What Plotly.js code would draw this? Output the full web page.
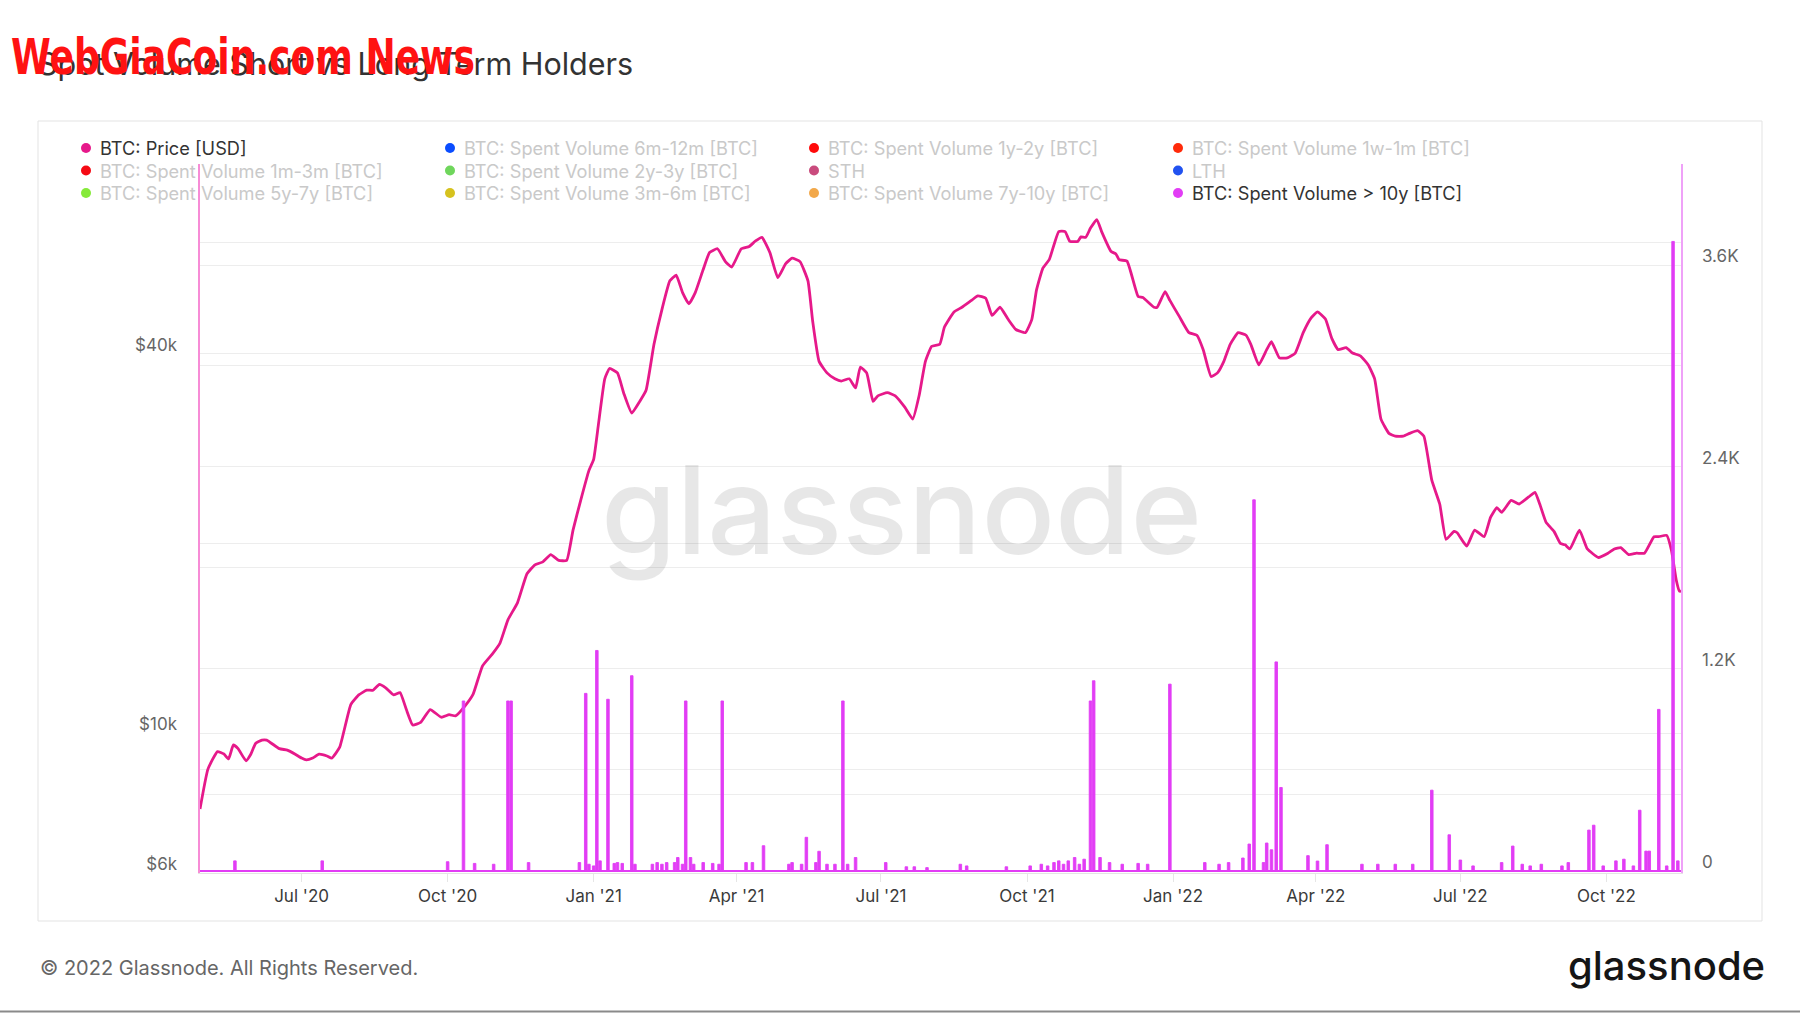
<!DOCTYPE html>
<html>
<head>
<meta charset="utf-8">
<script src="https://cdn.plot.ly/plotly-3.0.1.min.js"></script>
<style>
  html, body { margin: 0; padding: 0; background: #ffffff; }
  #chart { width: 1800px; height: 1013px; }
</style>
</head>
<body>
<div id="chart"></div>
<script>
// ---------------- DATA ----------------
const priceDates = [
  '2020-04-28','2020-05-03','2020-05-09','2020-05-13','2020-05-16','2020-05-19','2020-05-22','2020-05-27','2020-05-30',
  '2020-06-02','2020-06-06','2020-06-09','2020-06-17','2020-06-22','2020-06-27','2020-07-01','2020-07-04','2020-07-08',
  '2020-07-12','2020-07-17','2020-07-20','2020-07-25','2020-08-01','2020-08-06','2020-08-11','2020-08-15','2020-08-19',
  '2020-08-23','2020-08-28','2020-09-01','2020-09-05','2020-09-09','2020-09-14','2020-09-20','2020-09-27','2020-10-02',
  '2020-10-06','2020-10-12','2020-10-17','2020-10-23','2020-10-29','2020-11-03','2020-11-08','2020-11-14','2020-11-20',
  '2020-11-25','2020-11-30','2020-12-05','2020-12-10','2020-12-15','2020-12-19','2020-12-24','2020-12-29','2021-01-01',
  '2021-01-04','2021-01-08','2021-01-11','2021-01-16','2021-01-20','2021-01-25','2021-01-30','2021-02-03','2021-02-08',
  '2021-02-13','2021-02-18','2021-02-22','2021-02-26','2021-03-02','2021-03-06','2021-03-11','2021-03-15','2021-03-20',
  '2021-03-25','2021-03-29','2021-04-04','2021-04-09','2021-04-13','2021-04-17','2021-04-22','2021-04-27','2021-05-02',
  '2021-05-06','2021-05-11','2021-05-16','2021-05-19','2021-05-23','2021-05-28','2021-06-02','2021-06-06','2021-06-11',
  '2021-06-15','2021-06-18','2021-06-22','2021-06-26','2021-06-29','2021-07-05','2021-07-10','2021-07-16','2021-07-21',
  '2021-07-25','2021-07-29','2021-08-02','2021-08-07','2021-08-10','2021-08-16','2021-08-21','2021-08-27','2021-08-31',
  '2021-09-05','2021-09-09','2021-09-14','2021-09-19','2021-09-24','2021-09-30','2021-10-04','2021-10-07','2021-10-11',
  '2021-10-15','2021-10-21','2021-10-25','2021-10-28','2021-11-02','2021-11-04','2021-11-07','2021-11-10','2021-11-14',
  '2021-11-17','2021-11-23','2021-11-26','2021-11-28','2021-12-03','2021-12-10','2021-12-13','2021-12-20','2021-12-22',
  '2021-12-27','2021-12-30','2022-01-05','2022-01-11','2022-01-16','2022-01-20','2022-01-25','2022-01-29','2022-02-02',
  '2022-02-06','2022-02-11','2022-02-16','2022-02-19','2022-02-24','2022-03-01','2022-03-04','2022-03-09','2022-03-14',
  '2022-03-19','2022-03-24','2022-03-29','2022-04-02','2022-04-07','2022-04-11','2022-04-15','2022-04-20','2022-04-24',
  '2022-04-29','2022-05-04','2022-05-08','2022-05-12','2022-05-17','2022-05-21','2022-05-26','2022-05-30','2022-06-04',
  '2022-06-08','2022-06-13','2022-06-18','2022-06-22','2022-06-27','2022-06-29','2022-07-05','2022-07-10','2022-07-16',
  '2022-07-20','2022-07-24','2022-07-27','2022-08-02','2022-08-07','2022-08-13','2022-08-17','2022-08-20','2022-08-24',
  '2022-08-29','2022-09-02','2022-09-05','2022-09-08','2022-09-14','2022-09-19','2022-09-26','2022-10-02','2022-10-06',
  '2022-10-10','2022-10-15','2022-10-20','2022-10-25','2022-10-31','2022-11-03','2022-11-08','2022-11-11','2022-11-14',
  '2022-11-16','2022-11-17'
];
const priceValues = [
  7580,8770,9350,9270,9100,9580,9450,9040,9260,
  9630,9750,9750,9450,9400,9260,9130,9070,9130,
  9260,9200,9130,9500,11100,11500,11700,11700,11950,
  11800,11500,11600,10900,10300,10400,10900,10600,10700,
  10650,11050,11520,12790,13340,13900,15130,16100,17900,
  18500,18700,19200,18800,18800,21000,23500,26100,27200,
  30900,36500,37900,37300,34600,32200,33600,35000,41400,
  47000,52200,53300,50000,48000,50000,54400,57900,58700,
  56000,54900,58700,59200,60400,61200,57900,52800,55600,
  56700,56000,52200,45000,38900,37300,36500,36200,36500,
  35300,38100,37300,33600,34300,34700,34300,32900,31500,
  34300,38900,41100,41400,44100,46600,47400,48600,49400,
  49000,46000,47400,45400,43700,43200,45300,50500,54700,
  56400,62500,62500,60300,60300,61300,61200,63300,65300,
  62500,58100,57600,56400,56100,49300,49100,47400,47400,
  50200,48600,45800,43200,42800,40600,36800,37300,38900,
  41400,43200,42800,41400,38400,40600,41800,39400,39400,
  40100,43200,45600,46600,45400,42300,40600,40900,40100,
  39700,38400,36500,31500,29900,29600,29600,29900,30200,
  29600,25200,23100,20300,20900,20800,19800,21000,20500,
  22000,22800,22400,23400,23100,23700,24100,23100,21600,
  20900,20000,19900,19600,21000,19600,19000,19300,19600,
  19700,19200,19300,19300,20500,20500,20600,19500,17500,
  16800,16800
];

const volDates = [
  '2020-05-20','2020-07-14','2020-10-01','2020-10-11','2020-10-18','2020-10-30','2020-11-08','2020-11-10','2020-11-21',
  '2020-12-23','2020-12-27','2020-12-29','2021-01-01','2021-01-03','2021-01-05','2021-01-10','2021-01-14','2021-01-16',
  '2021-01-19','2021-01-25','2021-01-27','2021-02-07','2021-02-10','2021-02-13','2021-02-16','2021-02-21','2021-02-23',
  '2021-02-26','2021-02-28','2021-03-03','2021-03-05','2021-03-11','2021-03-17','2021-03-21','2021-03-23','2021-04-07',
  '2021-04-11','2021-04-18','2021-05-04','2021-05-06','2021-05-12','2021-05-15','2021-05-21','2021-05-23','2021-05-28',
  '2021-06-02','2021-06-07','2021-06-10','2021-06-15','2021-07-04','2021-07-17','2021-07-22','2021-07-30','2021-08-20',
  '2021-08-24','2021-09-18','2021-10-03','2021-10-10','2021-10-14','2021-10-18','2021-10-21','2021-10-24','2021-10-27',
  '2021-10-31','2021-11-03','2021-11-06','2021-11-10','2021-11-12','2021-11-16','2021-11-22','2021-11-30','2021-12-10',
  '2021-12-16','2021-12-30','2022-01-21','2022-01-30','2022-02-05','2022-02-14','2022-02-18','2022-02-21','2022-02-27',
  '2022-03-01','2022-03-04','2022-03-07','2022-03-10','2022-03-27','2022-04-02','2022-04-08','2022-04-30','2022-05-10',
  '2022-05-21','2022-06-01','2022-06-13','2022-06-24','2022-07-01','2022-07-09','2022-07-27','2022-08-03','2022-08-09',
  '2022-08-14','2022-08-21','2022-09-03','2022-09-07','2022-09-20','2022-09-23','2022-09-29','2022-10-07','2022-10-12',
  '2022-10-18','2022-10-22','2022-10-26','2022-10-28','2022-11-03','2022-11-08','2022-11-12','2022-11-15'
];
const volValues = [
  60,60,55,1010,45,40,1010,1010,50,
  50,1055,40,30,1310,60,1020,45,50,
  45,1160,40,40,50,40,50,50,80,
  40,1010,80,40,50,45,40,1010,50,
  50,150,40,50,40,200,50,117,40,
  40,1010,40,80,50,25,25,20,40,
  30,25,30,40,30,50,60,40,60,
  80,40,70,1010,1130,80,50,40,45,
  40,1110,50,40,50,77,160,2205,50,
  166,126,1242,496,91,59,156,40,40,
  40,40,480,215,65,30,50,148,40,
  30,40,30,50,243,272,30,60,70,
  30,361,118,118,960,30,3740,60
];

const xTickVals = ['2020-07-01','2020-10-01','2021-01-01','2021-04-01','2021-07-01','2021-10-01','2022-01-01','2022-04-01','2022-07-01','2022-10-01'];
const xTickText = ["Jul '20","Oct '20","Jan '21","Apr '21","Jul '21","Oct '21","Jan '22","Apr '22","Jul '22","Oct '22"];
const yTickVals = [6000,8000,10000,20000,40000,60000,80000];
const yTickText = ['$6k','','$10k','','$40k','',''];
const y2TickVals = [0,600,1200,1800,2400,3000,3600,4200];
const y2TickText = ['0','','1.2K','','2.4K','','3.6K',''];

const legendNames = [
  'BTC: Price [USD]','BTC: Spent Volume 6m-12m [BTC]','BTC: Spent Volume 1y-2y [BTC]','BTC: Spent Volume 1w-1m [BTC]',
  'BTC: Spent Volume 1m-3m [BTC]','BTC: Spent Volume 2y-3y [BTC]','STH','LTH',
  'BTC: Spent Volume 5y-7y [BTC]','BTC: Spent Volume 3m-6m [BTC]','BTC: Spent Volume 7y-10y [BTC]','BTC: Spent Volume > 10y [BTC]'
];
const legendColors = [
  '#E6198A','#0A4DFF','#FF0A0A','#FF2A0A',
  '#F50A14','#6FD65C','#C94B7D','#2152F0',
  '#86EA3A','#D6C21E','#F2A84A','#E23DF5'
];
const legendActive = [true,false,false,false,false,false,false,false,false,false,false,true];

// ---------------- LAYOUT HELPERS ----------------
const W = 1800, H = 1013;
const PL = 200, PR = 1681, PT = 164, PB = 873;
const px2x = px => (px - PL) / (PR - PL);
const px2y = py => (PB - py) / (PB - PT);

const FONT = 'Inter, "Noto Sans", "DejaVu Sans", sans-serif';
const PRICE_COLOR = '#E6198A';
const VOL_COLOR = '#E23DF5';

const traces = [
  {
    type: 'scatter', mode: 'lines', name: 'BTC: Price [USD]',
    x: priceDates, y: priceValues, xaxis: 'x', yaxis: 'y',
    line: { color: PRICE_COLOR, width: 2.8, shape: 'spline', smoothing: 0.4 },
    hoverinfo: 'skip', showlegend: false
  },
  {
    type: 'bar', name: 'BTC: Spent Volume > 10y [BTC]',
    x: volDates, y: volValues, xaxis: 'x', yaxis: 'y2',
    width: 1.6 * 86400000,
    marker: { color: VOL_COLOR, line: { width: 0.9, color: VOL_COLOR } },
    hoverinfo: 'skip', showlegend: false
  }
];

// legend (as annotations + shapes)
const colDotX = [86, 450, 814, 1178];
const colTextX = [98, 462, 826, 1190];
const rowY = [148, 170.5, 193];
const annotations = [];
const shapes = [];
legendNames.forEach((name, i) => {
  const c = i % 4, r = Math.floor(i / 4);
  shapes.push({
    type: 'circle', xref: 'paper', yref: 'paper', layer: 'above',
    xsizemode: 'pixel', ysizemode: 'pixel',
    xanchor: px2x(colDotX[c]), yanchor: px2y(rowY[r]),
    x0: -5, x1: 5, y0: -5, y1: 5,
    fillcolor: legendColors[i], line: { width: 0 }
  });
  annotations.push({
    xref: 'paper', yref: 'paper', x: px2x(colTextX[c]), y: px2y(rowY[r]),
    xanchor: 'left', yanchor: 'middle', showarrow: false, text: name,
    font: { family: FONT, size: 18.2, color: legendActive[i] ? '#333333' : '#C9C9C9' }
  });
});

// watermark in plot
annotations.push({
  xref: 'paper', yref: 'paper', x: px2x(901), y: px2y(509),
  xanchor: 'center', yanchor: 'middle', showarrow: false, text: 'glassnode',
  font: { family: FONT, size: 122, color: 'rgba(0,0,0,0.095)', weight: 500 }
});
// footer
annotations.push({
  xref: 'paper', yref: 'paper', x: px2x(38), y: px2y(968),
  xanchor: 'left', yanchor: 'middle', showarrow: false,
  text: '© 2022 Glassnode. All Rights Reserved.',
  font: { family: FONT, size: 20, color: '#666666' }
});
annotations.push({
  xref: 'paper', yref: 'paper', x: px2x(1767), y: px2y(965),
  xanchor: 'right', yanchor: 'middle', showarrow: false, text: 'glassnode',
  font: { family: FONT, size: 40, color: '#151515', weight: 500 }
});
// red overlay text
const RED_TEXT = 'WebGiaCoin.com News';
annotations.push({
  xref: 'paper', yref: 'paper', x: px2x(9), y: px2y(57),
  xanchor: 'left', yanchor: 'middle', showarrow: false, text: RED_TEXT,
  font: { family: '"Liberation Sans Narrow", "DejaVu Sans Condensed", "Liberation Sans", sans-serif', size: 49, color: '#FF1212', weight: 700 }
});

// outer chart box
shapes.push({
  type: 'rect', xref: 'paper', yref: 'paper', layer: 'below',
  x0: px2x(38), x1: px2x(1762), y0: px2y(921), y1: px2y(121),
  line: { color: '#E3E3E3', width: 1 }, fillcolor: 'rgba(0,0,0,0)'
});
// bottom page rule
shapes.push({
  type: 'line', xref: 'paper', yref: 'paper',
  x0: px2x(0), x1: px2x(1800), y0: px2y(1011.5), y1: px2y(1011.5),
  line: { color: '#8A8A8A', width: 2 }
});

const layout = {
  width: W, height: H,
  margin: { l: PL, r: W - PR, t: PT, b: H - PB, pad: 0 },
  paper_bgcolor: '#ffffff', plot_bgcolor: '#ffffff',
  font: { family: FONT, color: '#333333' },
  showlegend: false,
  bargap: 0,
  title: {
    text: 'Spot Volume Short vs Long Term Holders',
    xref: 'container', yref: 'container',
    x: 38 / W, xanchor: 'left', y: 1 - 64 / H, yanchor: 'middle',
    font: { family: FONT, size: 30.5, color: '#333333' }
  },
  xaxis: {
    type: 'date', range: ['2020-04-28', '2022-11-17'],
    tickmode: 'array', tickvals: xTickVals, ticktext: xTickText,
    showgrid: false, zeroline: false,
    showline: true, linecolor: '#E3E3E3', linewidth: 1,
    ticks: 'outside', ticklen: 8, tickcolor: '#E6E6E6', tickwidth: 1,
    tickfont: { family: FONT, size: 17, color: '#3A3A3A' },
    ticklabelstandoff: 0,
    fixedrange: true
  },
  yaxis: {
    type: 'log', range: [Math.log10(6000), Math.log10(80000)],
    tickmode: 'array', tickvals: yTickVals, ticktext: yTickText,
    showgrid: true, gridcolor: '#EDEDED', gridwidth: 1,
    zeroline: false,
    showline: true, linecolor: '#F78CD6', linewidth: 1.6,
    ticks: '', tickfont: { family: FONT, size: 17, color: '#666666' },
    ticklabelstandoff: 18, ticklabelshift: -9,
    fixedrange: true
  },
  yaxis2: {
    overlaying: 'y', side: 'right', anchor: 'x',
    range: [-12, 4200],
    tickmode: 'array', tickvals: y2TickVals, ticktext: y2TickText,
    showgrid: true, gridcolor: '#EDEDED', gridwidth: 1,
    zeroline: true, zerolinecolor: VOL_COLOR, zerolinewidth: 2,
    showline: true, linecolor: '#EFA2F8', linewidth: 1.6,
    ticks: '', tickfont: { family: FONT, size: 17, color: '#666666' },
    ticklabelstandoff: 16, ticklabelshift: -9,
    fixedrange: true
  },
  annotations: annotations,
  shapes: shapes
};

Plotly.newPlot('chart', traces, layout, { displayModeBar: false, staticPlot: true }).then(gd => {
  // condense the red overlay text horizontally so that it spans the same width as in the reference
  const targetWidth = 464;
  gd.querySelectorAll('text.annotation-text').forEach(t => {
    if (t.textContent === RED_TEXT) {
      const bb = t.getBBox();
      if (bb.width > 0) {
        const s = targetWidth / bb.width;
        t.setAttribute('transform', 'matrix(' + s + ',0,0,1,' + (bb.x * (1 - s)) + ',0)');
      }
    }
  });
});
</script>
</body>
</html>
